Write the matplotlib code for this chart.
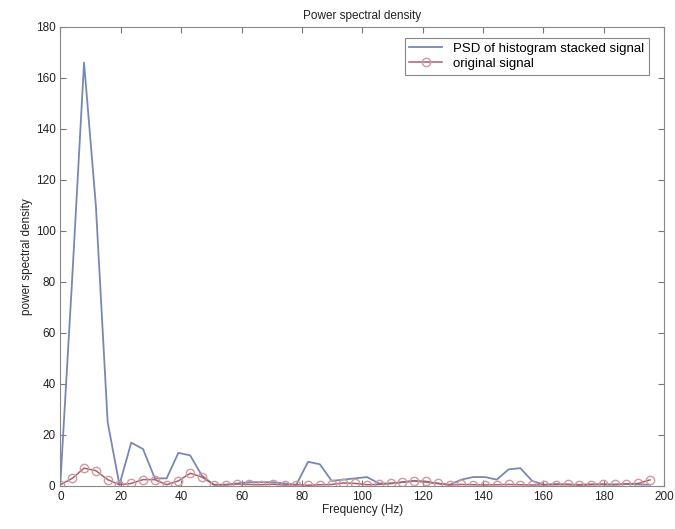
import numpy as np
import matplotlib
matplotlib.use('Agg')
from matplotlib import pyplot as plt

# frequency bins (Hz)
freq = [0.00, 3.91, 7.81, 11.72, 15.63, 19.53, 23.44, 27.34, 31.25, 35.16,
        39.06, 42.97, 46.88, 50.78, 54.69, 58.59, 62.50, 66.41, 70.31, 74.22,
        78.13, 82.03, 85.94, 89.84, 93.75, 97.66, 101.56, 105.47, 109.38, 113.28,
        117.19, 121.09, 125.00, 128.91, 132.81, 136.72, 140.63, 144.53, 148.44, 152.34,
        156.25, 160.16, 164.06, 167.97, 171.88, 175.78, 179.69, 183.59, 187.50, 191.41,
        195.31]

psd_stacked = [2, 82, 166, 110, 25, 0.5, 17, 14.5, 3, 3,
               13, 12, 4, 0.5, 0.5, 1, 1.5, 1.5, 1.5, 1,
               0.5, 9.5, 8.5, 2, 2.5, 3, 3.5, 1, 1, 1.5,
               2, 1.5, 1, 0.5, 2.5, 3.5, 3.5, 2.5, 6.5, 7,
               2, 0.5, 0.8, 0.6, 0.5, 0.7, 0.6, 0.5, 0.8, 0.6,
               0.5]

psd_original = [0.5, 3, 7, 6, 2.5, 0.5, 1, 2.5, 2.5, 0.5,
                2, 5, 3.5, 0.5, 0.5, 0.8, 0.6, 0.5, 0.7, 0.4,
                0.5, 0.3, 0.5, 0.6, 1.2, 1, 0.5, 0.6, 1, 1.5,
                2, 1.8, 1, 0.4, 0.6, 0.5, 0.4, 0.5, 0.6, 0.5,
                0.4, 0.5, 0.5, 0.6, 0.4, 0.5, 0.7, 0.6, 0.8, 1,
                2.4]

plt.rcParams['font.family'] = ['Liberation Sans', 'DejaVu Sans']
plt.rcParams['font.size'] = 8.5

fig = plt.figure(figsize=(6.75, 5.29), dpi=100)
ax = fig.add_axes([0.0896, 0.0813, 0.8944, 0.8677])

ax.plot(freq, psd_stacked, color='#7888b4', lw=1.3, label='PSD of histogram stacked signal')
ax.plot(freq, psd_original, color='#a8606c', lw=1.1, marker='o', markersize=6,
        markerfacecolor='none', markeredgecolor='#d39a9e', markeredgewidth=1.0,
        label='original signal')

ax.set_xlim(0, 200)
ax.set_ylim(0, 180)
ax.set_xticks(np.arange(0, 201, 20))
ax.set_yticks(np.arange(0, 181, 20))
ax.tick_params(direction='in', top=True, right=True, length=4, color='#777777', labelcolor='#222222')
for s in ax.spines.values():
    s.set_color('#888888')

ax.set_title('Power spectral density', fontsize=8.5, color='#222222')
ax.set_xlabel('Frequency (Hz)', labelpad=1, color='#222222')
ax.set_ylabel('power spectral density', labelpad=2, color='#222222')

leg = ax.legend(loc='upper right', fancybox=False, framealpha=1, edgecolor='#888888',
                borderpad=0.35, handlelength=2.5, labelspacing=0.2, fontsize=9.5,
                bbox_to_anchor=(0.985, 0.99))
leg.get_frame().set_linewidth(0.8)

fig.savefig('out.png', dpi=100)
